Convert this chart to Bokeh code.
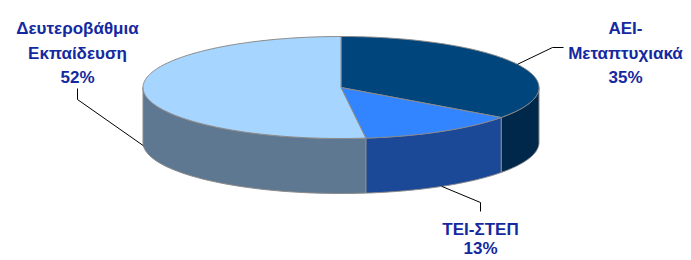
import numpy as np
from bokeh.plotting import figure
from bokeh.models import Range1d
from bokeh.core.properties import value
from bokeh.embed import file_html
from bokeh.resources import INLINE

# ---- data ----
categories = ["ΑΕΙ-Μεταπτυχιακά", "ΤΕΙ-ΣΤΕΠ", "Δευτεροβάθμια Εκπαίδευση"]
label_lines = [["ΑΕΙ-", "Μεταπτυχιακά"], ["ΤΕΙ-ΣΤΕΠ"], ["Δευτεροβάθμια", "Εκπαίδευση"]]
shares = [35, 13, 52]

# ---- style / layout ----
top_colors = ["#00467C", "#3384FF", "#A6D5FF"]
side_colors = ["#00284A", "#1C4898", "#5F7892"]
text_color = "#1429A0"
edge_color = "#8A8A8A"

W, H = 691, 260
cx, cy, a, b, depth = 340.5, 87.0, 198.0, 51.0, 55.0
# label anchor (center x, first baseline), elbow points
label_pos = [(625, 28), (480, 229), (77, 28)]
gaps = [24.5, 19.0, 24.5]
elbows = [[(552, 47), (563, 47)], [(480, 202), (480, 211)], [(77, 99), (77, 88)]]

p = figure(width=W, height=H, output_backend="svg", toolbar_location=None,
           x_range=Range1d(0, W), y_range=Range1d(H, 0),
           min_border=0, min_border_left=0, min_border_right=0,
           min_border_top=0, min_border_bottom=0)
p.axis.visible = False
p.grid.visible = False
p.outline_line_color = None
p.background_fill_color = "white"
p.border_fill_color = "white"


def ell(theta):
    return cx + a * np.cos(theta), cy - b * np.sin(theta)


fr = np.array(shares, dtype=float) / sum(shares)
starts = []
ends = []
ang = np.pi / 2
for f in fr:
    starts.append(ang)
    ang -= f * 2 * np.pi
    ends.append(ang)

# side walls (visible where sin<0, i.e. angle in [-pi, 0] mod 2pi)
side_xs, side_ys, side_c = [], [], []
for s, e, c in zip(starts, ends, side_colors):
    for shift in (0, -2 * np.pi, 2 * np.pi):
        lo = max(e + shift, -np.pi)
        hi = min(s + shift, 0.0)
        if hi > lo:
            t = np.linspace(lo, hi, 80)
            x, y = ell(t)
            xs = list(x) + list(x[::-1])
            ys = list(y) + list((y + depth)[::-1])
            side_xs.append(xs)
            side_ys.append(ys)
            side_c.append(c)
p.patches(side_xs, side_ys, fill_color=side_c, line_color=edge_color, line_width=1)

# top slices
top_xs, top_ys = [], []
for s, e in zip(starts, ends):
    t = np.linspace(s, e, 200)
    x, y = ell(t)
    top_xs.append([cx] + list(x))
    top_ys.append([cy] + list(y))
p.patches(top_xs, top_ys, fill_color=top_colors, line_color=edge_color, line_width=1)

# leader lines and labels
for s, e, lines, pct, (lx, ly), g, elb in zip(starts, ends, label_lines, shares, label_pos, gaps, elbows):
    m = (s + e) / 2
    x0, y0 = ell(m)
    if np.sin(m) < 0:
        y0 += depth
    px = [x0] + [q[0] for q in elb]
    py = [y0] + [q[1] for q in elb]
    p.line(px, py, line_color="black", line_width=1)
    texts = lines + [f"{pct}%"]
    ys = [ly + i * g for i in range(len(texts))]
    p.text(x=[lx] * len(texts), y=ys, text=texts, text_align="center",
           text_baseline="alphabetic", text_font=value("Liberation Sans"),
           text_font_style="bold", text_font_size="17px", text_color=text_color)

open("out.html", "w").write(file_html(p, INLINE))
